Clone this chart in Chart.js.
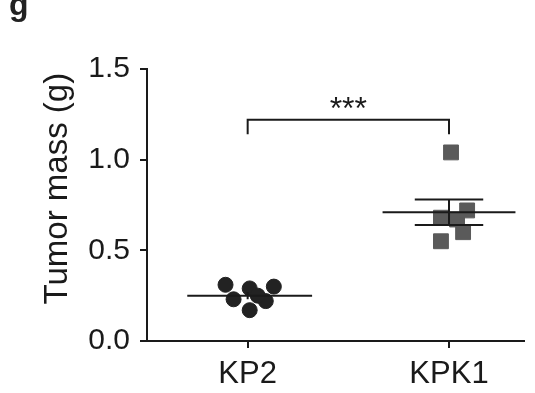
<!DOCTYPE html>
<html>
<head>
<meta charset="utf-8">
<script src="https://cdn.jsdelivr.net/npm/chart.js@4/dist/chart.umd.min.js"></script>
<style>
  html, body { margin: 0; padding: 0; background: #fff; }
  #wrap { position: relative; width: 535px; height: 393px; }
  #panel { position: absolute; left: 9px; top: -14px; font: bold 32px "Liberation Sans", Arial, sans-serif; color: #222; }
</style>
</head>
<body>
<div id="wrap">
  <canvas id="chart" width="535" height="393"></canvas>
  <div id="panel">g</div>
</div>
<script>
// groups and their x positions
const groups = ['KP2', 'KPK1'];

// tumor mass (g), with small horizontal jitter
const kp2X = [-0.11, -0.07, 0.01, 0.01, 0.09, 0.13, 0.05];
const kp2Y = [0.31, 0.23, 0.29, 0.17, 0.22, 0.30, 0.25];
const kpk1X = [1.01, 0.96, 1.04, 1.09, 1.07, 0.96];
const kpk1Y = [1.04, 0.68, 0.67, 0.72, 0.60, 0.55];

// mean and SEM
const kp2Mean = 0.25;
const kp2Sem = 0.02;
const kpk1Mean = 0.71;
const kpk1Sem = 0.07;

const yTicks = [0, 0.5, 1.0, 1.5];
const bracketY = [1.14, 1.22];
const starsLabel = '***';
const yTitle = 'Tumor mass (g)';

const ink = '#1a1a1a';
const fontFamily = '"Liberation Sans", Arial, sans-serif';

function pts(xs, ys) {
  return xs.map((x, i) => ({ x, y: ys[i] }));
}

function lineSet(data, width) {
  return {
    type: 'line',
    data,
    borderColor: ink,
    borderWidth: width,
    pointRadius: 0,
    fill: false,
    tension: 0,
  };
}

// stars over the bracket and the rotated y title
const textPlugin = {
  id: 'texts',
  afterDatasetsDraw(chart) {
    const { ctx, scales } = chart;
    ctx.save();
    ctx.fillStyle = ink;
    ctx.font = '32px ' + fontFamily;
    ctx.textAlign = 'center';
    ctx.textBaseline = 'alphabetic';
    ctx.fillText(starsLabel, scales.x.getPixelForValue(0.5), scales.y.getPixelForValue(bracketY[1]) - 1);

    ctx.font = '33px ' + fontFamily;
    ctx.textBaseline = 'middle';
    ctx.translate(58, scales.y.getPixelForValue(0.84));
    ctx.rotate(-Math.PI / 2);
    ctx.fillText(yTitle, 0, 0);
    ctx.restore();
  },
};

new Chart(document.getElementById('chart'), {
  type: 'scatter',
  data: {
    datasets: [
      // mean lines
      lineSet([{ x: -0.30, y: kp2Mean }, { x: 0.32, y: kp2Mean }], 2),
      lineSet([{ x: 0.67, y: kpk1Mean }, { x: 1.33, y: kpk1Mean }], 2),
      // SEM error bars
      lineSet([{ x: 0, y: kp2Mean - kp2Sem }, { x: 0, y: kp2Mean + kp2Sem }], 2),
      lineSet([{ x: 1, y: kpk1Mean - kpk1Sem }, { x: 1, y: kpk1Mean + kpk1Sem }], 2),
      lineSet([{ x: 0.83, y: kpk1Mean + kpk1Sem }, { x: 1.17, y: kpk1Mean + kpk1Sem }], 2),
      lineSet([{ x: 0.83, y: kpk1Mean - kpk1Sem }, { x: 1.17, y: kpk1Mean - kpk1Sem }], 2),
      // significance bracket
      lineSet([
        { x: 0, y: bracketY[0] }, { x: 0, y: bracketY[1] },
        { x: 1, y: bracketY[1] }, { x: 1, y: bracketY[0] },
      ], 2),
      {
        label: groups[0],
        data: pts(kp2X, kp2Y),
        pointStyle: 'circle',
        pointRadius: 7.5,
        backgroundColor: '#222',
        borderColor: '#222',
      },
      {
        label: groups[1],
        data: pts(kpk1X, kpk1Y),
        pointStyle: 'rect',
        pointRadius: 10.5,
        backgroundColor: '#5a5a5a',
        borderColor: '#5a5a5a',
      },
    ],
  },
  options: {
    responsive: false,
    animation: false,
    layout: { padding: { top: 69, right: 0, left: 0, bottom: 0 } },
    plugins: { legend: { display: false }, tooltip: { enabled: false } },
    scales: {
      x: {
        type: 'linear',
        min: -0.5,
        max: 1.37,
        afterBuildTicks: (s) => { s.ticks = groups.map((_, i) => ({ value: i })); },
        afterFit: (s) => { s.height = 52; s.paddingLeft = 0; s.paddingRight = 0; },
        ticks: {
          color: ink,
          font: { size: 31, family: fontFamily },
          padding: 8,
          callback: (v) => groups[v],
        },
        grid: { display: true, drawOnChartArea: false, drawTicks: true, tickLength: 7, color: ink, lineWidth: 2 },
        border: { color: ink, width: 2 },
      },
      y: {
        min: 0,
        max: 1.5,
        afterBuildTicks: (s) => { s.ticks = yTicks.map((v) => ({ value: v })); },
        afterFit: (s) => { s.width = 147; },
        ticks: {
          color: ink,
          font: { size: 30, family: fontFamily },
          padding: 10,
          callback: (v) => v.toFixed(1),
        },
        grid: { display: true, drawOnChartArea: false, drawTicks: true, tickLength: 7, color: ink, lineWidth: 2 },
        border: { color: ink, width: 2 },
      },
    },
  },
  plugins: [textPlugin],
});
</script>
</body>
</html>
